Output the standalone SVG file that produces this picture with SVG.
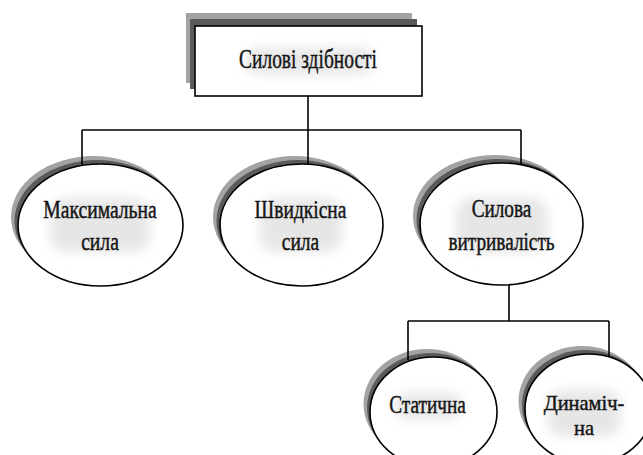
<svg xmlns="http://www.w3.org/2000/svg" width="643" height="455" viewBox="0 0 643 455">
<defs>
<filter id="halo" x="-40%" y="-80%" width="180%" height="260%"><feGaussianBlur stdDeviation="6"/></filter>
</defs>
<style>
.sh1{fill:#a3a3a3}
.sh2{fill:#5a5a5a}
.shape{fill:#fff;stroke:#000;stroke-width:1.6}
.lbl{font-family:"Liberation Serif","Times New Roman",serif;font-size:25px;fill:#151515;stroke:#151515;stroke-width:0.45;text-anchor:middle}
.big{font-size:27px}
.sm{font-size:22px}
.glow{fill:#e6e6e6;filter:url(#halo)}
.conn{fill:none;stroke:#000;stroke-width:1.6}
</style>
<rect width="643" height="455" fill="#fff"/>

<g id="node-root">
<rect class="sh1" x="186" y="13" width="226" height="70"/>
<rect class="sh2" x="190" y="19" width="227" height="70"/>
<rect class="shape" x="195" y="26" width="227" height="70"/>
<rect class="glow" x="245" y="48" width="128" height="26" rx="12"/>
<text class="lbl big" transform="translate(308 68) scale(0.72 1)" x="0" y="0">Силові здібності</text>
</g>

<g id="node-max">
<ellipse class="sh1" cx="93.5" cy="217" rx="82.5" ry="61"/>
<ellipse class="sh2" cx="97" cy="221" rx="82.5" ry="61"/>
<ellipse class="shape" cx="100.5" cy="225" rx="82.5" ry="61"/>
<rect class="glow" x="50" y="198" width="100" height="54" rx="16"/>
<text class="lbl" transform="translate(100 218) scale(0.785 1)"><tspan x="0" y="0">Максимальна</tspan><tspan x="0" y="32">сила</tspan></text>
</g>

<g id="node-speed">
<ellipse class="sh1" cx="294.5" cy="217" rx="81.5" ry="61"/>
<ellipse class="sh2" cx="298" cy="221" rx="81.5" ry="61"/>
<ellipse class="shape" cx="301.5" cy="225" rx="81.5" ry="61"/>
<rect class="glow" x="260" y="198" width="82" height="54" rx="16"/>
<text class="lbl" transform="translate(300.5 218) scale(0.78 1)"><tspan x="0" y="0">Швидкісна</tspan><tspan x="0" y="32">сила</tspan></text>
</g>

<g id="node-endurance">
<ellipse class="sh1" cx="494.5" cy="216" rx="81.5" ry="61"/>
<ellipse class="sh2" cx="498" cy="220" rx="81.5" ry="61"/>
<ellipse class="shape" cx="501.5" cy="224" rx="81.5" ry="61"/>
<rect class="glow" x="456" y="198" width="92" height="54" rx="16"/>
<text class="lbl" transform="translate(501.5 217) scale(0.77 1)"><tspan x="0" y="0">Силова</tspan><tspan x="0" y="33">витривалість</tspan></text>
</g>

<g id="node-static">
<ellipse class="sh1" cx="427" cy="404" rx="63.5" ry="55"/>
<ellipse class="sh2" cx="430.5" cy="408" rx="63.5" ry="55"/>
<ellipse class="shape" cx="433.5" cy="412" rx="63.5" ry="55"/>
<rect class="glow" x="394" y="393" width="68" height="26" rx="12"/>
<text class="lbl" transform="translate(427.5 413) scale(0.77 1)" x="0" y="0">Статична</text>
</g>

<g id="node-dynamic">
<ellipse class="sh1" cx="582" cy="401" rx="63.5" ry="55"/>
<ellipse class="sh2" cx="585.5" cy="405" rx="63.5" ry="55"/>
<ellipse class="shape" cx="588.5" cy="409" rx="63.5" ry="55"/>
<rect class="glow" x="548" y="390" width="72" height="46" rx="14"/>
<text class="lbl sm" transform="translate(584 410) scale(0.93 1)"><tspan x="0" y="0">Динаміч-</tspan><tspan x="0" y="25">на</tspan></text>
</g>

<g id="connectors" class="conn">
<path d="M308 96 V130"/>
<path d="M82 130 H521"/>
<path d="M82 130 V165"/>
<path d="M308 130 V164"/>
<path d="M521 130 V164"/>
<path d="M509 285 V321"/>
<path d="M408 321 H609"/>
<path d="M408 321 V360"/>
<path d="M609 321 V357"/>
</g>
</svg>
